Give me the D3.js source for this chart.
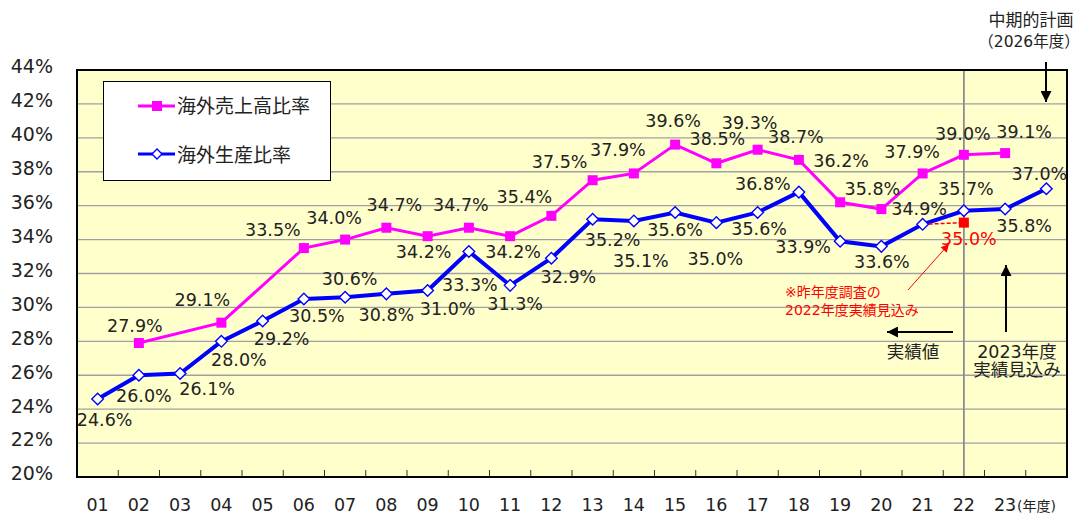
<!DOCTYPE html>
<html>
<head>
<meta charset="utf-8">
<script src="https://cdn.jsdelivr.net/npm/d3@7"></script>
<style>
  body { margin: 0; background: #fff; }
  text { font-family: "DejaVu Sans", "Noto Sans CJK JP", sans-serif; }
</style>
</head>
<body>
<div id="chart"></div>
<script>
// data
const years = ["01","02","03","04","05","06","07","08","09","10","11","12","13","14","15","16","17","18","19","20","21","22","23","26"];
const yearLabels = ["01","02","03","04","05","06","07","08","09","10","11","12","13","14","15","16","17","18","19","20","21","22","23",""];
const salesRatio = [null, 27.9, null, 29.1, null, 33.5, 34.0, 34.7, 34.2, 34.7, 34.2, 35.4, 37.5, 37.9, 39.6, 38.5, 39.3, 38.7, 36.2, 35.8, 37.9, 39.0, 39.1, null];
const prodRatio = [24.6, 26.0, 26.1, 28.0, 29.2, 30.5, 30.6, 30.8, 31.0, 33.3, 31.3, 32.9, 35.2, 35.1, 35.6, 35.0, 35.6, 36.8, 33.9, 33.6, 34.9, 35.7, 35.8, 37.0];
const prevEstimate = { year: "22", value: 35.0, from: "21" };
const yTicks = [20, 22, 24, 26, 28, 30, 32, 34, 36, 38, 40, 42, 44];
const seriesNames = ["海外売上高比率", "海外生産比率"];

// label offsets (dx, baseline dy) per point
const salesOff = [null,[-4,-11],null,[-19,-17],null,[-31,-12],[-11,-16],[8,-17],[-4,22],[-8,-17],[3,22],[-27,-12.5],[-33,-12],[-16,-17],[-2,-18],[1,-18],[-8,-21],[-3,-16.5],[1,-35],[-9,-14],[-10.5,-15],[-1,-15],[19,-15],null];
const prodOff = [[7,27.5],[5,26.5],[27,21.5],[17.5,25],[19,24],[13,23],[4.5,-12],[0,27],[20,25],[1,40],[5,25],[17,25],[20,27],[7,46],[0,24],[-1,42],[1.5,23],[-36,-2],[-37,12],[0.5,22],[-3.5,-9],[2,-16],[19,23],[-7,-9]];

const W = 1081, H = 515;
const L = 77, R = 1067, T = 70, B = 477;

const svg = d3.select("#chart").append("svg").attr("width", W).attr("height", H);

const defs = svg.append("defs");
function arrowMarker(id, color, w, h) {
  defs.append("marker").attr("id", id)
    .attr("viewBox", "0 0 10 10").attr("refX", 10).attr("refY", 5)
    .attr("markerUnits", "userSpaceOnUse")
    .attr("markerWidth", w).attr("markerHeight", h).attr("orient", "auto")
    .append("path").attr("d", "M0,0L10,5L0,10Z").attr("fill", color);
}
arrowMarker("ab", "#000", 13, 11);
arrowMarker("ar", "#ff0000", 10, 8);

const x = d3.scaleBand().domain(years).range([L, R]);
const y = d3.scaleLinear().domain([20, 44]).range([B, T]);
const cx = d => x(d) + x.bandwidth() / 2;

// plot background
svg.append("rect").attr("x", L).attr("y", T).attr("width", R - L).attr("height", B - T).attr("fill", "#ffffcc");

// gridlines
svg.append("g").selectAll("line").data(yTicks.filter(t => t > 20 && t < 44)).join("line")
  .attr("x1", L).attr("x2", R).attr("y1", d => y(d)).attr("y2", d => y(d))
  .attr("stroke", "#a0a0a0").attr("stroke-width", 1.3);

// divider at 22
svg.append("line").attr("x1", cx("22")).attr("x2", cx("22")).attr("y1", T).attr("y2", B)
  .attr("stroke", "#8c8c8c").attr("stroke-width", 1.8);

// x tick marks at band boundaries
svg.append("g").selectAll("line").data(years.slice(1)).join("line")
  .attr("x1", d => x(d)).attr("x2", d => x(d)).attr("y1", B).attr("y2", B - 7)
  .attr("stroke", "#333").attr("stroke-width", 1);

// frame
svg.append("rect").attr("x", L).attr("y", T).attr("width", R - L).attr("height", B - T)
  .attr("fill", "none").attr("stroke", "#000").attr("stroke-width", 2);

// y axis labels
const yAxis = d3.axisLeft(y).tickValues(yTicks).tickFormat(d => d + "%").tickSize(0).tickPadding(0);
const gy = svg.append("g").attr("transform", `translate(53,0)`).call(yAxis);
gy.select(".domain").remove();
gy.selectAll("text").attr("font-size", 19).attr("fill", "#222").attr("dy", "0.15em")
  .style("font-family", "DejaVu Sans");

// x axis labels
const xAxis = d3.axisBottom(x).tickFormat((d, i) => yearLabels[i]).tickSize(0).tickPadding(0);
const gx = svg.append("g").attr("transform", `translate(0,${B})`).call(xAxis);
gx.select(".domain").remove();
gx.selectAll("text").attr("font-size", 17.5).attr("fill", "#222").attr("y", 34).attr("dy", 0)
  .style("font-family", "DejaVu Sans");
svg.append("text").attr("x", 1017).attr("y", 511).attr("font-size", 14).attr("fill", "#222").text("(年度)");

// series
const salesPts = years.map((d, i) => ({ year: d, v: salesRatio[i], off: salesOff[i] })).filter(d => d.v != null);
const prodPts = years.map((d, i) => ({ year: d, v: prodRatio[i], off: prodOff[i] }));
const line = d3.line().x(d => cx(d.year)).y(d => y(d.v));

svg.append("path").datum(salesPts).attr("d", line)
  .attr("fill", "none").attr("stroke", "#ff00ff").attr("stroke-width", 3);
svg.append("path").datum(prodPts).attr("d", line)
  .attr("fill", "none").attr("stroke", "#0000ff").attr("stroke-width", 4);

// previous estimate (red dashed)
const prevFrom = prodPts.find(d => d.year === prevEstimate.from);
svg.append("line")
  .attr("x1", cx(prevFrom.year)).attr("y1", y(prevFrom.v))
  .attr("x2", cx(prevEstimate.year)).attr("y2", y(prevEstimate.value))
  .attr("stroke", "#ff0000").attr("stroke-width", 1.5).attr("stroke-dasharray", "4,2");

svg.append("g").selectAll("rect").data(salesPts).join("rect")
  .attr("x", d => cx(d.year) - 5).attr("y", d => y(d.v) - 5)
  .attr("width", 10).attr("height", 10).attr("fill", "#ff00ff");

const diamond = (s) => `M0,${-s}L${s},0L0,${s}L${-s},0Z`;
svg.append("g").selectAll("path").data(prodPts).join("path")
  .attr("d", diamond(5.8)).attr("transform", d => `translate(${cx(d.year)},${y(d.v)})`)
  .attr("fill", "#fff").attr("stroke", "#0000ff").attr("stroke-width", 1.4);

svg.append("rect").attr("x", cx(prevEstimate.year) - 5).attr("y", y(prevEstimate.value) - 5)
  .attr("width", 10).attr("height", 10).attr("fill", "#ff0000");

// data labels
const fmt = v => v.toFixed(1) + "%";
svg.append("g").selectAll("text").data(salesPts).join("text")
  .attr("x", d => cx(d.year) + d.off[0]).attr("y", d => y(d.v) + d.off[1])
  .attr("text-anchor", "middle").attr("font-size", 17.5).attr("fill", "#222").text(d => fmt(d.v));
svg.append("g").selectAll("text").data(prodPts).join("text")
  .attr("x", d => cx(d.year) + d.off[0]).attr("y", d => y(d.v) + d.off[1])
  .attr("text-anchor", "middle").attr("font-size", 17.5).attr("fill", "#222").text(d => fmt(d.v));
svg.append("text").attr("x", cx(prevEstimate.year) + 5).attr("y", y(prevEstimate.value) + 22)
  .attr("text-anchor", "middle").attr("font-size", 17.5).attr("fill", "#ff0000").text(fmt(prevEstimate.value));

// legend
const lg = svg.append("g");
lg.append("rect").attr("x", 103.5).attr("y", 81.5).attr("width", 227).attr("height", 99)
  .attr("fill", "#fff").attr("stroke", "#000").attr("stroke-width", 1);
lg.append("line").attr("x1", 138).attr("x2", 175).attr("y1", 106).attr("y2", 106).attr("stroke", "#ff00ff").attr("stroke-width", 3);
lg.append("rect").attr("x", 152).attr("y", 101).attr("width", 10).attr("height", 10).attr("fill", "#ff00ff");
lg.append("line").attr("x1", 138).attr("x2", 175).attr("y1", 154).attr("y2", 154).attr("stroke", "#0000ff").attr("stroke-width", 3);
lg.append("path").attr("d", diamond(5)).attr("transform", "translate(157,154)").attr("fill", "#fff").attr("stroke", "#0000ff").attr("stroke-width", 1.4);
lg.selectAll("text.lt").data(seriesNames).join("text").attr("class", "lt")
  .attr("x", 177).attr("y", (d, i) => 104 + i * 49).attr("dominant-baseline", "central")
  .attr("font-size", 19).attr("fill", "#222").style("font-family", "Noto Sans CJK JP").text(d => d);

// annotations
const ann = svg.append("g").style("font-family", "Noto Sans CJK JP").attr("fill", "#222");
ann.append("text").attr("x", 1031).attr("y", 20).attr("text-anchor", "middle").attr("dominant-baseline", "central").attr("font-size", 17).text("中期的計画");
ann.append("text").attr("x", 1029).attr("y", 42).attr("text-anchor", "middle").attr("dominant-baseline", "central").attr("font-size", 15.5).text("（2026年度）");
ann.append("text").attr("x", 913).attr("y", 352).attr("text-anchor", "middle").attr("dominant-baseline", "central").attr("font-size", 17.5).text("実績値");
ann.append("text").attr("x", 1017).attr("y", 352).attr("text-anchor", "middle").attr("dominant-baseline", "central").attr("font-size", 17.5).text("2023年度");
ann.append("text").attr("x", 1017).attr("y", 370).attr("text-anchor", "middle").attr("dominant-baseline", "central").attr("font-size", 17.5).text("実績見込み");
ann.append("text").attr("x", 785).attr("y", 292).attr("dominant-baseline", "central").attr("font-size", 14).attr("fill", "#ff0000").text("※昨年度調査の");
ann.append("text").attr("x", 785).attr("y", 310).attr("dominant-baseline", "central").attr("font-size", 14).attr("fill", "#ff0000").text("2022年度実績見込み");

svg.append("line").attr("x1", 953).attr("y1", 332).attr("x2", 887).attr("y2", 332).attr("stroke", "#000").attr("stroke-width", 2).attr("marker-end", "url(#ab)");
svg.append("line").attr("x1", 1006).attr("y1", 332).attr("x2", 1006).attr("y2", 265).attr("stroke", "#000").attr("stroke-width", 2).attr("marker-end", "url(#ab)");
svg.append("line").attr("x1", 1046).attr("y1", 62).attr("x2", 1046).attr("y2", 102).attr("stroke", "#000").attr("stroke-width", 2).attr("marker-end", "url(#ab)");
svg.append("line").attr("x1", 908).attr("y1", 290).attr("x2", 949).attr("y2", 244).attr("stroke", "#ff0000").attr("stroke-width", 1).attr("marker-end", "url(#ar)");
</script>
</body>
</html>
